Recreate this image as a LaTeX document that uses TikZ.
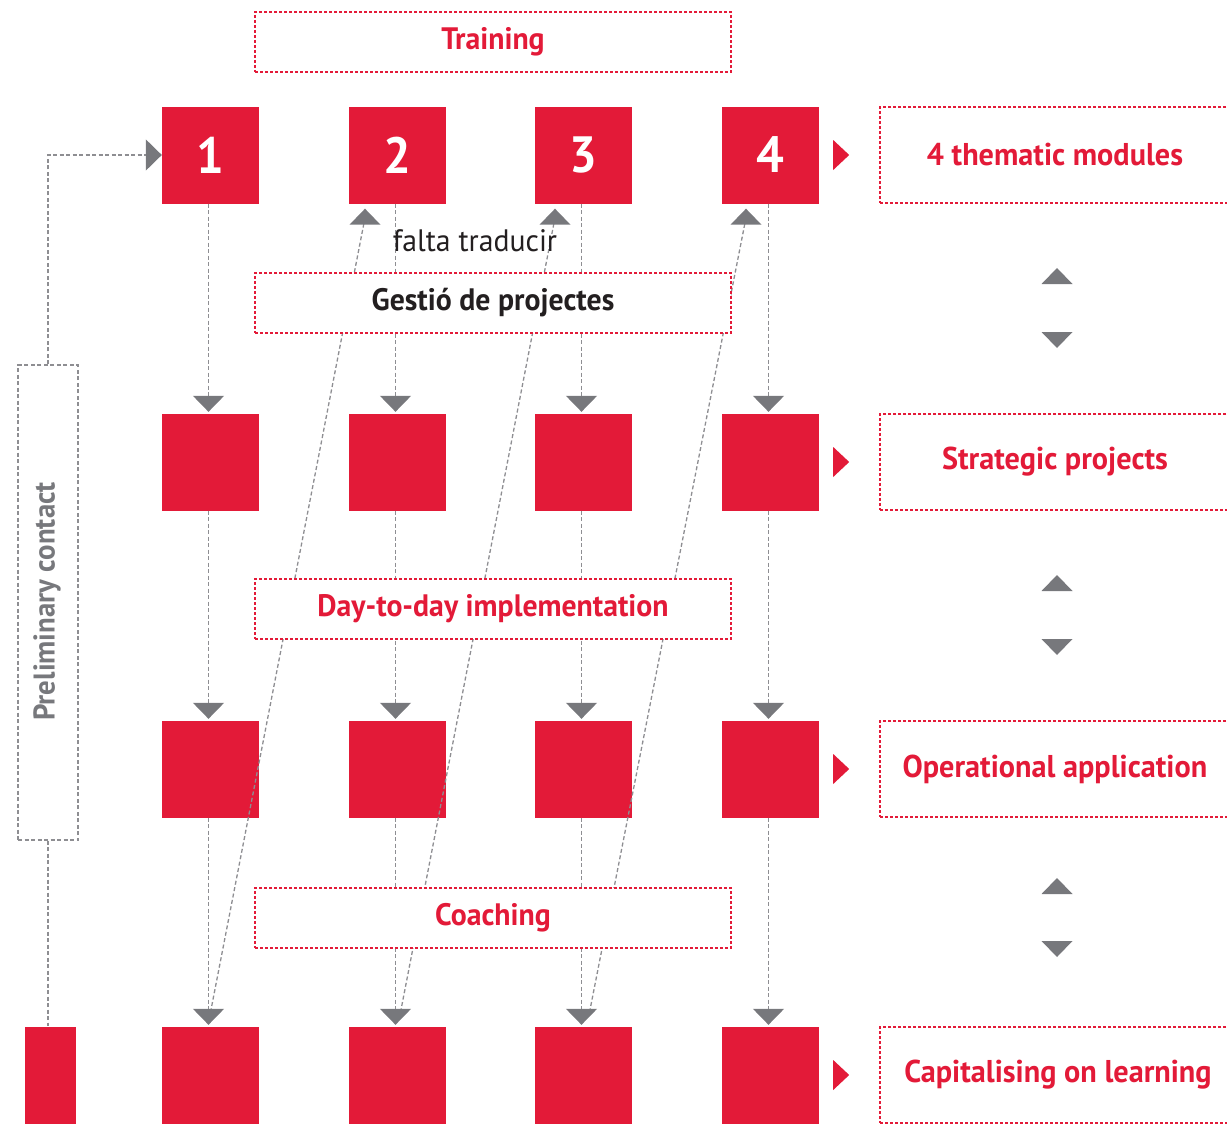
\documentclass[tikz,border=0pt]{standalone}
\usepackage{fontspec}
\setmainfont{PT Sans}[FakeStretch=0.96]
\usetikzlibrary{arrows.meta,calc}

\definecolor{brandred}{HTML}{E31A38}
\definecolor{linegray}{HTML}{8E8E92}
\definecolor{tipgray}{HTML}{77787C}
\definecolor{inkdark}{HTML}{231F20}

\tikzset{
  sq/.style={fill=brandred, minimum width=97pt, minimum height=97pt, inner sep=0pt,
             text=white, font=\bfseries\fontsize{51}{51}\selectfont},
  grayline/.style={draw=linegray, line width=1.3pt, dash pattern=on 4pt off 2.5pt},
  flow/.style={grayline, -{Triangle[width=31pt,length=16pt,color=tipgray,fill=tipgray]}},
  redbox/.style={draw=brandred, line width=1.2pt, dash pattern=on 3pt off 2pt, fill=white,
                 inner sep=0pt, text=brandred, font=\bfseries\fontsize{31}{31}\selectfont},
  phase/.style={redbox, minimum width=476pt, minimum height=60pt},
  outcome/.style={redbox, minimum width=350pt, minimum height=96pt,
                  font=\bfseries\fontsize{31.5}{31.5}\selectfont},
  uptip/.pic={\fill[tipgray] (0,0) -- (15.5,16) -- (-15.5,16) -- cycle;},
  downtip/.pic={\fill[tipgray] (0,0) -- (15.5,-16) -- (-15.5,-16) -- cycle;},
  redtip/.pic={\fill[brandred] (0,-15) -- (16,0) -- (0,15) -- cycle;}
}

\begin{document}
\begin{tikzpicture}[x=1pt,y=-1pt]
\useasboundingbox (0,0) rectangle (1227,1124);

% module squares: rows 1-4, columns 1-4
\node[sq] (s11) at (210.5,155) {1};
\node[sq] (s12) at (397.5,155) {2};
\node[sq] (s13) at (583.5,155) {3};
\node[sq] (s14) at (770.5,155) {4};
\foreach \r/\y in {2/462,3/769,4/1075}{
  \node[sq] (s\r1) at (210.5,\y) {};
  \node[sq] (s\r2) at (397.5,\y) {};
  \node[sq] (s\r3) at (583.5,\y) {};
  \node[sq] (s\r4) at (770.5,\y) {};
}
\node[fill=brandred, minimum width=51pt, minimum height=97pt, inner sep=0pt] (startbar) at (50.5,1075) {};

% feedback lines from the last row of one module to the top of the next
\coordinate (fb1a) at ($(s41.north)+(0,-14)$);
\coordinate (fb1b) at ($(s12.south)+(-32.5,14)$);
\coordinate (fb1t) at ($(s12.south)+(-32.5,5)$);
\coordinate (fb2a) at ($(s42.north)+(3,-14)$);
\coordinate (fb2b) at ($(s13.south)+(-28.5,14)$);
\coordinate (fb2t) at ($(s13.south)+(-28.5,5)$);
\coordinate (fb3a) at ($(s43.north)+(6,-14)$);
\coordinate (fb3b) at ($(s14.south)+(-24.5,14)$);
\coordinate (fb3t) at ($(s14.south)+(-24.5,5)$);
\foreach \k in {1,2,3}{
  \draw[grayline] (fb\k a) -- (fb\k b);
  \pic at (fb\k t) {uptip};
}

% downward flow within each module
\foreach \c in {1,2,3,4}{
  \foreach \r/\n in {1/2,2/3,3/4}{
    \draw[flow, shorten >=1.5pt] ($(s\r\c.south)+(-2,0)$) -- ($(s\n\c.north)+(-2,0)$);
  }
}

% phase labels across the columns
\node[phase] (training) at (493,42) {Training};
\node[phase, text=inkdark] (gestio) at (493,303) {Gestió de projectes};
\node[phase] (daily) at (493,609) {Day-to-day implementation};
\node[phase] (coaching) at (493,918) {Coaching};
\node[text=inkdark, font=\fontsize{31}{31}\selectfont] (note) at (475,241) {falta traducir};

% preliminary contact
\node[draw=linegray, line width=1.3pt, dash pattern=on 4pt off 2.5pt,
      minimum width=60pt, minimum height=475pt, inner sep=0pt] (prelim) at (48,602.5) {};
\node[rotate=90, text=tipgray, font=\bfseries\fontsize{30}{30}\selectfont] (prelimtext) at ($(prelim.center)+(-1,-1)$) {Preliminary contact};
\draw[flow] (prelim.north) |- (s11.west);
\draw[grayline] (prelim.south) -- (prelim.south |- startbar.north);

% outcomes on the right
\node[outcome] (o1) at (1055,155) {4 thematic modules};
\node[outcome] (o2) at (1055,462) {Strategic projects};
\node[outcome] (o3) at (1055,769) {Operational application};
\node[outcome] (o4) at (1055,1075) {\hspace{6pt}Capitalising on learning};
\foreach \r in {1,2,3,4}{
  \pic at ($(s\r4.east)+(14,0)$) {redtip};
}

% up/down markers between outcomes
\pic at (1057,268) {uptip};
\pic at (1057,348) {downtip};
\pic at (1057,575) {uptip};
\pic at (1057,655) {downtip};
\pic at (1057,878) {uptip};
\pic at (1057,957) {downtip};
\end{tikzpicture}
\end{document}
